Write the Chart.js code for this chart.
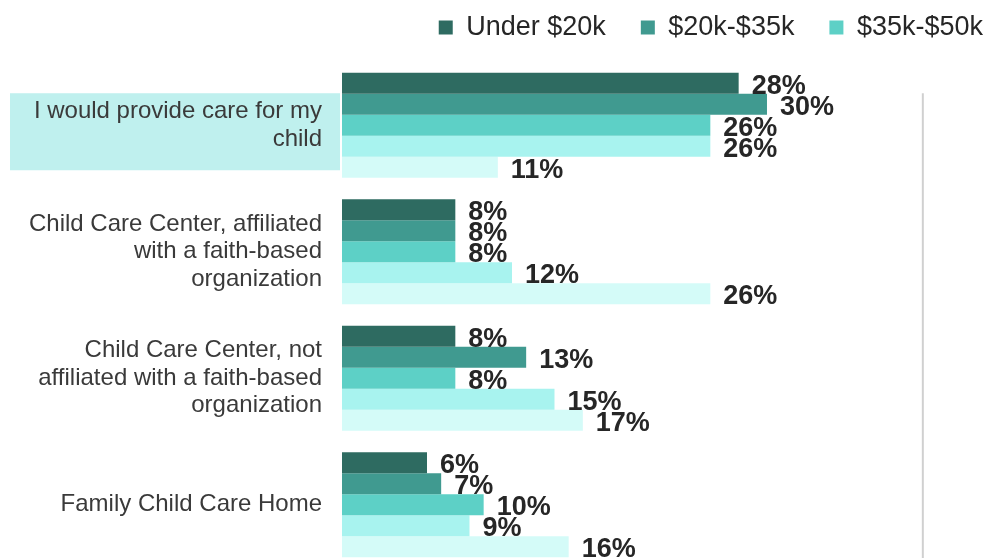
<!DOCTYPE html>
<html>
<head>
<meta charset="utf-8">
<script src="https://cdn.jsdelivr.net/npm/chart.js@4.4.1/dist/chart.umd.min.js"></script>
<style>
  html, body { margin: 0; padding: 0; background: #fff; overflow: hidden; }
  canvas { display: block; }
</style>
</head>
<body>
<canvas id="care" width="986" height="568"></canvas>
<script>
var categories = [
   ["I would provide care for my", "child"],
   ["Child Care Center, affiliated", "with a faith-based", "organization"],
   ["Child Care Center, not", "affiliated with a faith-based", "organization"],
   ["Family Child Care Home"]
];
var seriesNames = ["Under $20k", "$20k-$35k", "$35k-$50k", "$50k-$75k", "$75k+"];
var under20 = [28, 8, 8, 6];
var k20to35 = [30, 8, 13, 7];
var k35to50 = [26, 8, 8, 10];
var k50to75 = [26, 12, 15, 9];
var k75plus = [11, 26, 17, 16];
var barColors = ["#2e6b61", "#409a90", "#5dd0c6", "#a8f3ef", "#d4fbf8"];

var allValues = [under20, k20to35, k35to50, k50to75, k75plus];

// extra room under the legend, and push it to the right edge
var legendGap = {
   id: "legendGap",
   beforeInit: function (chart) {
      var fit = chart.legend.fit;
      chart.legend.fit = function () {
         fit.bind(chart.legend)();
         this.height += 11;
      };
   },
   afterLayout: function (chart) {
      chart.legend.left += 32;
      chart.legend.right += 32;
   }
};

// light highlight behind the first label + grey divider on the right
var decor = {
   id: "decor",
   beforeDraw: function (chart) {
      var ctx = chart.ctx;
      var y = chart.scales.y;
      var x = chart.scales.x;
      var c = y.getPixelForValue(0);
      ctx.save();
      ctx.fillStyle = "#bff0ee";
      ctx.fillRect(10, c - 32, y.right - 12, 77);
      ctx.strokeStyle = "#d0d0d0";
      ctx.lineWidth = 2;
      ctx.beginPath();
      ctx.moveTo(x.getPixelForValue(41), c - 32);
      ctx.lineTo(x.getPixelForValue(41), chart.height);
      ctx.stroke();
      ctx.restore();
   }
};

// value labels at the end of each bar
var valueLabels = {
   id: "valueLabels",
   afterDatasetsDraw: function (chart) {
      var ctx = chart.ctx;
      ctx.save();
      ctx.font = "bold 27px 'Liberation Sans', Arial, sans-serif";
      ctx.fillStyle = "#262626";
      ctx.textAlign = "left";
      ctx.textBaseline = "middle";
      chart.data.datasets.forEach(function (ds, i) {
         chart.getDatasetMeta(i).data.forEach(function (bar, j) {
            ctx.fillText(ds.data[j] + "%", bar.x + 13, bar.y + 3);
         });
      });
      ctx.restore();
   }
};

new Chart("care", {
   type: "bar",
   data: {
      labels: categories,
      datasets: seriesNames.map(function (name, i) {
         return {
            label: name,
            data: allValues[i],
            backgroundColor: barColors[i],
            borderWidth: 0,
            categoryPercentage: 0.83,
            barPercentage: 1.0
         };
      })
   },
   options: {
      indexAxis: "y",
      responsive: false,
      animation: false,
      layout: { padding: { top: -21, right: 0, left: 0, bottom: 0 } },
      plugins: {
         legend: {
            position: "top",
            align: "end",
            labels: {
               boxWidth: 14,
               boxHeight: 14,
               padding: 35,
               color: "#262626",
               font: { family: "'Liberation Sans', Arial, sans-serif", size: 27 },
               filter: function (item) { return item.datasetIndex < 3; }
            }
         },
         tooltip: { enabled: false }
      },
      scales: {
         x: {
            display: false,
            min: 0,
            max: 45.46
         },
         y: {
            grid: { display: false, drawTicks: false },
            border: { display: false },
            ticks: {
               padding: 20,
               color: "#3a3a3a",
               font: { family: "'Liberation Sans', Arial, sans-serif", size: 24, lineHeight: 1.15 }
            },
            afterFit: function (scale) {
               scale.width = 342;
               scale.paddingTop = 0;
               scale.paddingBottom = 0;
            }
         }
      }
   },
   plugins: [legendGap, decor, valueLabels]
});
</script>
</body>
</html>
